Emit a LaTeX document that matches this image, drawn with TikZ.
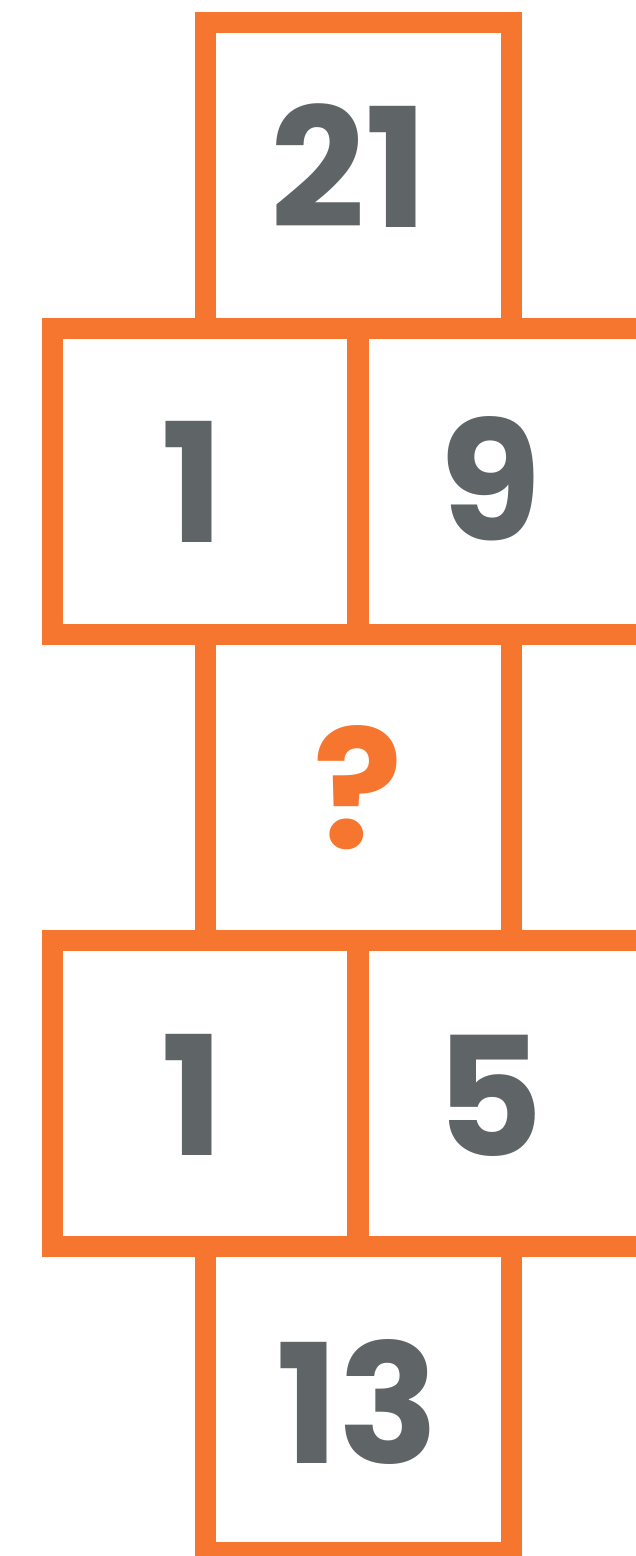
\documentclass[tikz,border=0pt]{standalone}
\usepackage{fontspec}
\setmainfont{Poppins}[BoldFont={* Bold}]
\usepackage{xcolor}
\usepackage{tikz}
\usetikzlibrary{positioning}
\definecolor{hoporange}{HTML}{F7762F}
\definecolor{hopgray}{HTML}{5F6466}
\tikzset{
    cell/.style={rectangle, minimum width=306pt, minimum height=306pt, inner sep=0pt, draw=hoporange, line width=21pt},
    num/.style={anchor=base, inner sep=0pt, text=hopgray, font=\fontsize{166}{166}\selectfont\bfseries},
    ask/.style={num, text=hoporange}
}
\begin{document}
\begin{tikzpicture}[x=1pt, y=-1pt]
    \clip (0,0) rectangle (636,1556);
    % cells, top to bottom
    \node (c1) [cell] at (358,175) {};
    \node (c2l) [cell] at (205,481) {};
    \node (c2r) [cell] at (510,481) {};
    \node (c3) [cell] at (358,787) {};
    \node (c4l) [cell] at (205,1093) {};
    \node (c4r) [cell] at (510,1093) {};
    \node (c5) [cell] at (358,1399) {};

    % numbers
    \node (n1) [num] at (349,227) {21};
    \node (n2l) [num] at (193,542) {1};
    \node (n2r) [num] at (491,540) {9};
    \node (n3) [ask] at (358,848) {?};
    \node (n4l) [num] at (193,1155) {1};
    \node (n4r) [num] at (489,1156) {5};
    \node (n5) [num] at (358,1463) {13};
\end{tikzpicture}
\end{document}
